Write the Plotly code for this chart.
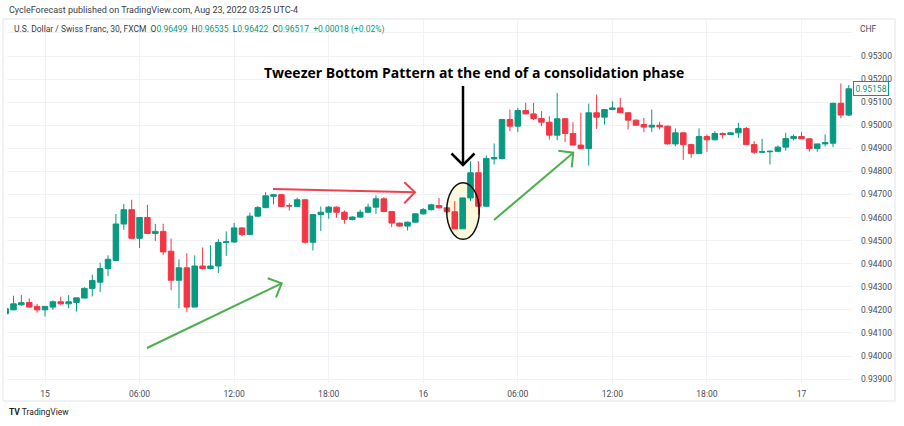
import pandas as pd
import plotly.graph_objects as go

# ---------------- data (USD/CHF, 30-minute candles) ----------------
open_ = [0.94183, 0.94200, 0.94222, 0.94232, 0.94215, 0.94200, 0.94212, 0.94235, 0.94226, 0.94232,
         0.94251, 0.94293, 0.94320, 0.94379, 0.94414, 0.94572, 0.94634, 0.94510, 0.94600, 0.94531,
         0.94540, 0.94454, 0.94328, 0.94382, 0.94212, 0.94390, 0.94379, 0.94390, 0.94492, 0.94494,
         0.94555, 0.94526, 0.94606, 0.94643, 0.94692, 0.94699, 0.94652, 0.94648, 0.94677, 0.94493,
         0.94613, 0.94623, 0.94645, 0.94623, 0.94592, 0.94602, 0.94623, 0.94645, 0.94681, 0.94626,
         0.94576, 0.94563, 0.94580, 0.94616, 0.94634, 0.94652, 0.94642, 0.94625, 0.94551, 0.94685,
         0.94794, 0.94649, 0.94854, 0.94856, 0.95025, 0.94996, 0.95064, 0.95049, 0.95029, 0.95013,
         0.94957, 0.95028, 0.94964, 0.94914, 0.94899, 0.95054, 0.95035, 0.95068, 0.95075, 0.95054,
         0.95022, 0.95003, 0.94992, 0.95000, 0.94996, 0.94919, 0.94967, 0.94916, 0.94877, 0.94951,
         0.94937, 0.94964, 0.94960, 0.94967, 0.94986, 0.94916, 0.94883, 0.94885, 0.94887, 0.94905,
         0.94942, 0.94951, 0.94941, 0.94899, 0.94919, 0.94922, 0.95095, 0.95044]
high = [0.94207, 0.94261, 0.94264, 0.94250, 0.94226, 0.94215, 0.94241, 0.94257, 0.94264, 0.94252,
        0.94298, 0.94352, 0.94404, 0.94436, 0.94615, 0.94659, 0.94677, 0.94600, 0.94655, 0.94573,
        0.94573, 0.94509, 0.94419, 0.94445, 0.94436, 0.94470, 0.94480, 0.94506, 0.94540, 0.94577,
        0.94558, 0.94621, 0.94650, 0.94710, 0.94700, 0.94702, 0.94662, 0.94686, 0.94680, 0.94613,
        0.94648, 0.94650, 0.94648, 0.94631, 0.94606, 0.94634, 0.94660, 0.94696, 0.94688, 0.94628,
        0.94578, 0.94582, 0.94618, 0.94641, 0.94660, 0.94685, 0.94645, 0.94671, 0.94685, 0.94844,
        0.94844, 0.94869, 0.94921, 0.95025, 0.95068, 0.95075, 0.95097, 0.95097, 0.95061, 0.95039,
        0.95140, 0.95030, 0.95013, 0.95054, 0.95094, 0.95133, 0.95068, 0.95104, 0.95119, 0.95056,
        0.95025, 0.95032, 0.95068, 0.95015, 0.94998, 0.94986, 0.94968, 0.94920, 0.94986, 0.94960,
        0.94974, 0.94969, 0.94969, 0.95010, 0.94992, 0.94931, 0.94941, 0.94890, 0.94912, 0.94967,
        0.94960, 0.94971, 0.94943, 0.94919, 0.94960, 0.95098, 0.95181, 0.95174]
low = [0.94180, 0.94198, 0.94217, 0.94210, 0.94188, 0.94171, 0.94200, 0.94222, 0.94207, 0.94193,
       0.94251, 0.94258, 0.94277, 0.94346, 0.94411, 0.94547, 0.94506, 0.94468, 0.94528, 0.94499,
       0.94438, 0.94285, 0.94207, 0.94190, 0.94212, 0.94375, 0.94375, 0.94360, 0.94434, 0.94490,
       0.94519, 0.94526, 0.94602, 0.94640, 0.94657, 0.94645, 0.94630, 0.94645, 0.94486, 0.94457,
       0.94541, 0.94595, 0.94599, 0.94573, 0.94588, 0.94598, 0.94618, 0.94616, 0.94624, 0.94558,
       0.94560, 0.94544, 0.94577, 0.94612, 0.94630, 0.94640, 0.94620, 0.94551, 0.94551, 0.94671,
       0.94613, 0.94649, 0.94830, 0.94852, 0.94974, 0.94970, 0.95049, 0.95022, 0.94996, 0.94938,
       0.94935, 0.94927, 0.94914, 0.94899, 0.94825, 0.94984, 0.95003, 0.95065, 0.95054, 0.94982,
       0.94998, 0.94970, 0.94971, 0.94982, 0.94916, 0.94909, 0.94850, 0.94859, 0.94877, 0.94885,
       0.94934, 0.94942, 0.94958, 0.94945, 0.94916, 0.94876, 0.94880, 0.94830, 0.94884, 0.94890,
       0.94934, 0.94941, 0.94885, 0.94885, 0.94909, 0.94905, 0.95030, 0.95040]
close = [0.94205, 0.94226, 0.94231, 0.94212, 0.94200, 0.94215, 0.94235, 0.94226, 0.94235, 0.94252,
         0.94293, 0.94327, 0.94379, 0.94419, 0.94572, 0.94634, 0.94510, 0.94600, 0.94531, 0.94540,
         0.94451, 0.94328, 0.94382, 0.94212, 0.94390, 0.94379, 0.94390, 0.94492, 0.94495, 0.94555,
         0.94526, 0.94606, 0.94643, 0.94694, 0.94699, 0.94648, 0.94650, 0.94677, 0.94493, 0.94613,
         0.94623, 0.94645, 0.94623, 0.94592, 0.94602, 0.94623, 0.94645, 0.94681, 0.94626, 0.94576,
         0.94563, 0.94580, 0.94616, 0.94634, 0.94655, 0.94642, 0.94625, 0.94551, 0.94685, 0.94794,
         0.94649, 0.94856, 0.94860, 0.95025, 0.94996, 0.95064, 0.95049, 0.95029, 0.95013, 0.94957,
         0.95028, 0.94964, 0.94914, 0.94899, 0.95054, 0.95035, 0.95068, 0.95075, 0.95054, 0.95022,
         0.95000, 0.94992, 0.95000, 0.94993, 0.94919, 0.94967, 0.94916, 0.94877, 0.94951, 0.94937,
         0.94964, 0.94960, 0.94967, 0.94986, 0.94916, 0.94883, 0.94885, 0.94887, 0.94905, 0.94942,
         0.94951, 0.94941, 0.94899, 0.94919, 0.94924, 0.95095, 0.95044, 0.95158]

first_bar_time = "2022-08-14 21:30"
bar_minutes = 30
x_tick_times = ["2022-08-15 00:00", "2022-08-15 06:00", "2022-08-15 12:00", "2022-08-15 18:00",
                "2022-08-16 00:00", "2022-08-16 06:00", "2022-08-16 12:00", "2022-08-16 18:00",
                "2022-08-17 00:00"]
x_tick_labels = ["15", "06:00", "12:00", "18:00", "16", "06:00", "12:00", "18:00", "17"]
y_tick_values = [0.939, 0.940, 0.941, 0.942, 0.943, 0.944, 0.945, 0.946, 0.947,
                 0.948, 0.949, 0.950, 0.951, 0.952, 0.953, 0.954]
y_tick_labels = ["0.93900", "0.94000", "0.94100", "0.94200", "0.94300", "0.94400", "0.94500",
                 "0.94600", "0.94700", "0.94800", "0.94900", "0.95000", "0.95100", "0.95200",
                 "0.95300", ""]
last_price = 0.95158

# ---------------- geometry ----------------
W, H = 904, 426
PL, PR, PT, PB = 7, 852, 20, 383          # plot area in pixels
ANCHOR_PX, BAR_PX = 45, 7.88              # pixel of 15 00:00, pixels per bar

def px(x):
    return (x - PL) / (PR - PL)

def py(y):
    return (PB - y) / (PB - PT)

times = pd.date_range(first_bar_time, periods=len(open_), freq=f"{bar_minutes}min")
t_anchor = pd.Timestamp(x_tick_times[0])
step = pd.Timedelta(minutes=bar_minutes)
x_range = [t_anchor + step * ((PL - ANCHOR_PX) / BAR_PX),
           t_anchor + step * ((PR - ANCHOR_PX) / BAR_PX)]
y_range = [0.93883, 0.95456]

GREEN = "#089981"
RED = "#f23645"
GRID = "#f0f2f6"
TXT = "#4a4d57"
FONT = "Roboto"

fig = go.Figure(go.Candlestick(
    x=times, open=open_, high=high, low=low, close=close,
    increasing=dict(line=dict(color=GREEN, width=1), fillcolor=GREEN),
    decreasing=dict(line=dict(color=RED, width=1), fillcolor=RED),
    whiskerwidth=0, showlegend=False, hoverinfo="skip",
))

shapes = []
# outer frame
shapes.append(dict(type="rect", xref="paper", yref="paper",
                   x0=px(3), x1=px(895), y0=py(401), y1=py(19),
                   line=dict(color="#e0e3eb", width=1), layer="below"))
# ellipse fill and outline
shapes.append(dict(type="circle", xref="paper", yref="paper",
                   x0=px(446.7), x1=px(479.3), y0=py(239.3), y1=py(182.7),
                   fillcolor="rgba(253,250,215,0.9)", line=dict(width=0), layer="between"))
shapes.append(dict(type="circle", xref="paper", yref="paper",
                   x0=px(446.7), x1=px(479.3), y0=py(239.3), y1=py(182.7),
                   fillcolor="rgba(0,0,0,0)", line=dict(color="#111111", width=1.5), layer="above"))

def arrow(x0, y0, x1, y1, a1, a2, color, width):
    shapes.append(dict(type="line", xref="paper", yref="paper",
                       x0=px(x0), y0=py(y0), x1=px(x1), y1=py(y1),
                       line=dict(color=color, width=width), layer="above"))
    path = (f"M {px(a1[0])},{py(a1[1])} L {px(x1)},{py(y1)} L {px(a2[0])},{py(a2[1])}")
    shapes.append(dict(type="path", xref="paper", yref="paper", path=path,
                       line=dict(color=color, width=width), layer="above"))

arrow(463, 86, 463, 165, (451.5, 153.5), (474.5, 153.5), "#000000", 2.5)
arrow(273, 189, 415, 192.3, (404.3, 182.3), (404.3, 203.3), "#f04050", 2)
arrow(147, 348, 281.7, 283.3, (267.7, 278.3), (276, 297.3), "#4caf50", 2)
arrow(494, 220, 573.3, 152.7, (558.3, 150.7), (571.7, 167.3), "#4caf50", 2)

annotations = [
    dict(x=px(7), y=py(10), xref="paper", yref="paper", xanchor="left", yanchor="middle",
         text="CycleForecast published on TradingView.com, Aug 23, 2022 03:25 UTC-4",
         showarrow=False, font=dict(family=FONT, size=9, color="#3a3d45")),
    dict(x=px(12), y=py(29), xref="paper", yref="paper", xanchor="left", yanchor="middle",
         text=("U.S. Dollar / Swiss Franc, 30, FXCM&nbsp;&nbsp;O<span style='color:%s'>0.96499</span>"
               "&nbsp;&nbsp;H<span style='color:%s'>0.96535</span>"
               "&nbsp;&nbsp;L<span style='color:%s'>0.96422</span>"
               "&nbsp;&nbsp;C<span style='color:%s'>0.96517</span>"
               "&nbsp;&nbsp;<span style='color:%s'>+0.00018 (+0.02%%)</span>")
              % (GREEN, GREEN, GREEN, GREEN, GREEN),
         showarrow=False, font=dict(family=FONT, size=8.5, color="#3a3d45")),
    dict(x=px(474), y=py(72), xref="paper", yref="paper", xanchor="center", yanchor="middle",
         text="<b>Tweezer Bottom Pattern at the end of a consolidation phase</b>",
         showarrow=False, font=dict(family="Open Sans", size=14, color="#000000")),
    dict(x=px(858), y=py(29), xref="paper", yref="paper", xanchor="left", yanchor="middle",
         text="CHF", showarrow=False, font=dict(family=FONT, size=8.5, color=TXT)),
    dict(x=px(7), y=py(412), xref="paper", yref="paper", xanchor="left", yanchor="middle",
         text="<b>TV</b> TradingView", showarrow=False,
         font=dict(family=FONT, size=8.5, color="#222222")),
    dict(x=1, y=last_price, xref="paper", yref="y", xanchor="left", yanchor="middle",
         xshift=1, text=f"{last_price:.5f}", showarrow=False,
         font=dict(family=FONT, size=8.5, color=GREEN), bgcolor="#ffffff",
         bordercolor=GREEN, borderwidth=1, borderpad=1.5),
]

fig.update_layout(
    width=W, height=H,
    margin=dict(l=PL, r=W - PR, t=PT, b=H - PB, pad=0),
    paper_bgcolor="#ffffff", plot_bgcolor="#ffffff",
    boxgap=0.3, boxgroupgap=0,
    shapes=shapes, annotations=annotations,
    xaxis=dict(type="date", range=x_range, rangeslider=dict(visible=False),
               tickvals=x_tick_times, ticktext=x_tick_labels, showgrid=True,
               gridcolor=GRID, gridwidth=1, zeroline=False, showline=False, ticks="",
               tickfont=dict(family=FONT, size=8.5, color=TXT), ticklabelstandoff=4),
    yaxis=dict(range=y_range, side="right", tickvals=y_tick_values, ticktext=y_tick_labels,
               showgrid=True, gridcolor=GRID, gridwidth=1, zeroline=False, showline=False,
               ticks="", tickfont=dict(family=FONT, size=8.5, color=TXT),
               ticklabelstandoff=8),
    font=dict(family=FONT),
)

fig.write_html("out.html", config={"displayModeBar": False},
               post_script="document.body.style.margin='0px';")
